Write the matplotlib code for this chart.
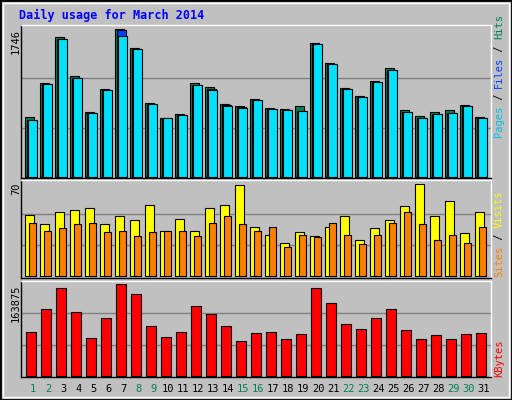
import matplotlib
matplotlib.use("Agg")
import matplotlib.pyplot as plt
from matplotlib.patches import Rectangle

days = list(range(1, 32))
hits = [703,1106,1651,1189,762,1035,1746,1521,869,691,739,1106,1059,857,833,916,810,798,833,1580,1343,1047,952,1130,1284,786,715,762,786,845,703]
files = [672,1100,1635,1172,755,1028,1734,1512,862,691,732,1090,1040,845,822,910,804,792,780,1575,1337,1040,946,1124,1268,768,700,748,757,840,697]
pages = [668,1094,1627,1165,751,1023,1663,1509,857,691,727,1082,1023,833,810,905,798,786,774,1568,1331,1035,940,1118,1260,762,691,739,751,833,691]
visits = [46,39,48,49,51,39,45,42,53,34,43,34,51,53,68,37,31,25,33,30,37,45,27,36,42,52,69,45,56,32,48]
sites = [40,34,36,39,40,33,34,30,33,34,34,30,40,45,39,34,37,22,31,29,40,31,24,31,40,48,39,27,31,25,37]
kbytes = [76089,116475,153349,111207,65554,100672,160372,142813,86624,67310,76089,121742,107695,86624,60286,74333,76089,63798,72577,153349,127010,90136,81357,100672,116475,79601,63798,70821,63798,72577,74333]
max_hits, max_visits, max_kb = 1746, 70, 163875
weekend = {1,2,8,9,15,16,22,23,29,30}

W, H = 512, 400
fig = plt.figure(figsize=(5.12, 4.0), dpi=100)
fig.patch.set_facecolor("#C0C0C0")
fig.patches.append(Rectangle((0, 0), 1, 1, transform=fig.transFigure, fill=False, ec="black", lw=2))
fig.patches.append(Rectangle((3/W, 3/H), 1-6/W, 1-6/H, transform=fig.transFigure, fill=False, ec="white", lw=1))

def px(x, y):
    return x / W, 1 - y / H

x0 = 0.713
xr = (x0, x0 + 470/15)

def mkax(top, bottom, ymin, ymax, maxv):
    ax = fig.add_axes([21/W, 1-bottom/H, 470/W, (bottom-top)/H])
    ax.set_facecolor("#C0C0C0")
    ax.set_xlim(*xr); ax.set_ylim(ymin, ymax)
    ax.set_xticks([]); ax.set_yticks([])
    for s in ax.spines.values():
        s.set_color("black"); s.set_linewidth(1)
    ax.spines["top"].set_color("white"); ax.spines["right"].set_color("white")
    for f in (1/3, 2/3):
        ax.axhline(maxv*f, color="#808080", lw=1, zorder=0)
    return ax

ax1 = mkax(25, 178, -15, 1797, max_hits)
kw = dict(align="edge", edgecolor="black", linewidth=0.8)
ax1.bar([d for d in days], hits, width=0.58, color="#00805C", **kw)
ax1.bar([d+0.1 for d in days], files, width=0.58, color="#0040FF", **kw)
ax1.bar([d+0.2 for d in days], pages, width=0.56, color="#00E0FF", **kw)

ax2 = mkax(180, 278, -1.3, 71.7, max_visits)
ax2.bar([d for d in days], visits, width=0.56, color="#FFFF00", **kw)
ax2.bar([d+0.27 for d in days], sites, width=0.47, color="#FF8000", **kw)

ax3 = mkax(281, 377, -2281, 166156, max_kb)
ax3.bar([d+0.067 for d in days], kbytes, width=0.67, color="#FF0000", **kw)

mono = "DejaVu Sans Mono"
fig.text(*px(19, 15), "Daily usage for March 2014", color="#0000FF", fontsize=8.5,
         fontweight="bold", family=mono, va="center", ha="left")
for y, lab in [(29, "1746"), (182, "70"), (284, "163875")]:
    fig.text(*px(16, y), lab, rotation=90, ha="center", va="top", fontsize=7.5, family=mono)
for d in days:
    xf = (21 + (d + 0.53 - x0) * 15) / W
    fig.text(xf, 1 - 389/H, str(d), ha="center", va="center", fontsize=7.5,
             color="#00805C" if d in weekend else "black", family=mono)

def rlab(parts, ybot):
    y = ybot
    for txt, col in parts:
        t = fig.text(*px(499, y), txt, rotation=90, ha="center", va="bottom",
                     fontsize=7.5, color=col, family=mono)
        y -= len(txt) * 6.1
rlab([("Pages", "#00C0E0"), (" / ", "black"), ("Files", "#0040FF"), (" / ", "black"), ("Hits", "#00805C")], 137)
rlab([("Sites", "#FF8000"), (" / ", "black"), ("Visits", "#FFFF00")], 277)
rlab([("KBytes", "#FF0000")], 377)

fig.savefig("out.png", dpi=100, facecolor=fig.get_facecolor())
